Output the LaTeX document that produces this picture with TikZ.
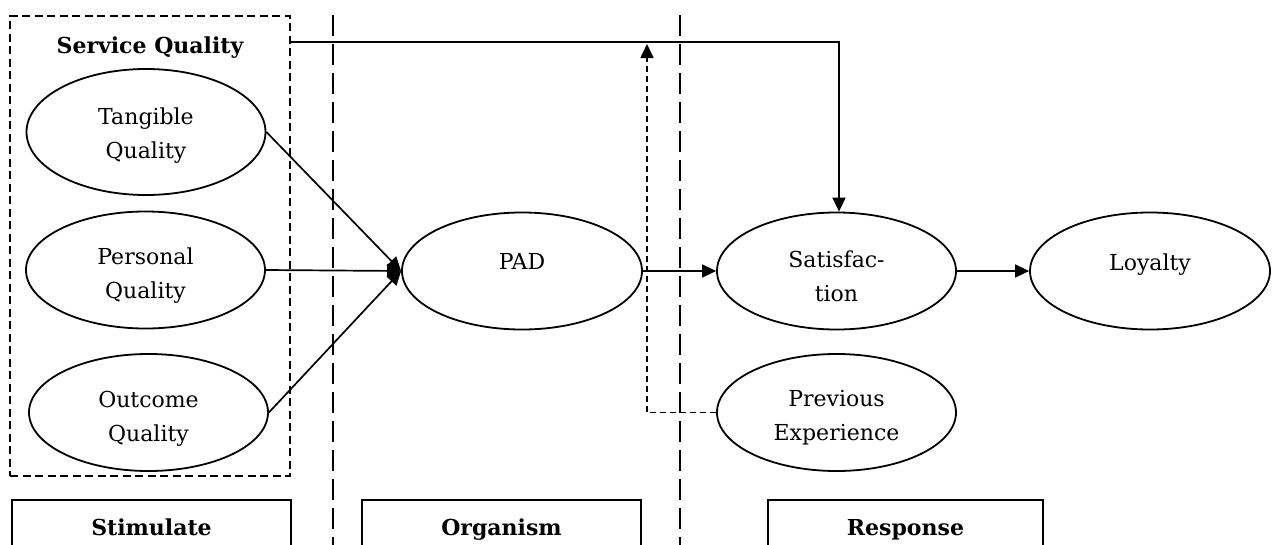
\documentclass[tikz,border=0pt]{standalone}
\usepackage{fontspec}
\setmainfont{DejaVu Serif}
\usetikzlibrary{arrows.meta,shapes.geometric,calc}
\begin{document}
\begin{tikzpicture}[x=1pt,y=-1pt,
  every node/.style={font=\fontsize{22}{34}\selectfont},
  ell/.style={draw,ellipse,line width=1.8pt,inner sep=0pt,minimum width=239pt,minimum height=117pt},
  lbl/.style={align=center,anchor=base,inner sep=0pt},
  conn/.style={line width=1.7pt,-{Triangle[length=14pt,width=13pt]}},
  fbk/.style={line width=1.7pt,dash pattern=on 6pt off 4pt,-{Triangle[length=14pt,width=13pt]}},
  divider/.style={line width=2.6pt,dash pattern=on 21pt off 8pt},
  groupbox/.style={draw,line width=1.7pt,dash pattern=on 8pt off 4.5pt,inner sep=0pt},
  bbox/.style={draw,line width=1.4pt,inner sep=0pt,minimum width=279pt,minimum height=59pt,text height=16pt,text depth=5pt,font=\fontsize{22}{26}\selectfont\bfseries}
]
\clip (0,0) rectangle (1272,544);
\fill[white] (0,0) rectangle (1272,544);

% group box
\node[groupbox,minimum width=280pt,minimum height=460pt] (sqbox) at (150,246) {};
\node[lbl,font=\fontsize{22}{26}\selectfont\bfseries] (sqt) at (150,53) {Service Quality};

% dividers
\coordinate (d1t) at (333,15);
\coordinate (d1b) at (333,560);
\coordinate (d2t) at (680,15);
\coordinate (d2b) at (680,560);
\draw[divider] (d1t) -- (d1b);
\draw[divider] (d2t) -- (d2b);

% ellipses
\node[ell,minimum height=126pt] (tq) at (146,132) {};
\node[ell] (pq) at (145.5,270) {};
\node[ell] (oq) at (148.5,412.5) {};
\node[ell,minimum width=240pt] (pad) at (522,271) {};
\node[ell] (sat) at (836.5,271) {};
\node[ell,minimum width=240pt] (loy) at (1150,271) {};
\node[ell] (prev) at (836.5,412.5) {};

% labels (base anchor = baseline of last line)
\node[lbl] (tqt) at ($(tq.center)+(0,26)$) {Tangible\\Quality};
\node[lbl] (pqt) at ($(pq.center)+(0,28)$) {Personal\\Quality};
\node[lbl] (oqt) at ($(oq.center)+(0,28.5)$) {Outcome\\Quality};
\node[lbl] (padt) at ($(pad.center)+(0,-2)$) {PAD};
\node[lbl] (satt) at ($(sat.center)+(0,30)$) {Satisfac-\\tion};
\node[lbl] (loyt) at ($(loy.center)+(0,-1)$) {Loyalty};
\node[lbl] (prevt) at ($(prev.center)+(0,27.5)$) {Previous\\Experience};

% bottom boxes
\node[bbox] (stim) at (151.5,529.5) {Stimulate};
\node[bbox] (org) at (501.5,529.5) {Organism};
\node[bbox,minimum width=275pt] (resp) at (905.5,529.5) {Response};

% connectors
\draw[conn] (tq.east) -- (pad.west);
\draw[conn] (pq.east) -- (pad.west);
\draw[conn] (oq.east) -- (pad.west);
\draw[conn] (pad.east) -- (sat.west);
\draw[conn] (sat.east) -- (loy.west);
\coordinate (sqout) at (290,42);
\coordinate (satin) at (839,42);
\draw[conn] (sqout) -- (satin) -- (satin |- sat.north);
\coordinate (fbtip) at (647,44);
\draw[fbk] (prev.west) -| (fbtip);
\end{tikzpicture}
\end{document}
